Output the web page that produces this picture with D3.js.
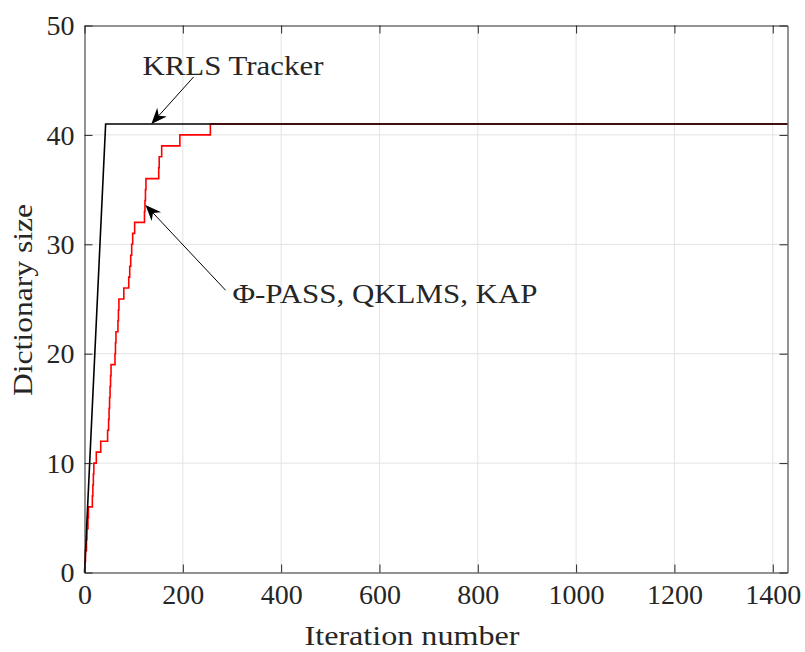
<!DOCTYPE html>
<html>
<head>
<meta charset="utf-8">
<script src="https://cdn.jsdelivr.net/npm/d3@7"></script>
<style>
  body{margin:0;background:#fff;}
  svg text{font-family:"Liberation Serif","Times New Roman",serif;fill:#262626;}
</style>
</head>
<body>
<svg id="chart"></svg>
<script>
// KRLS tracker: grows straight up to the budget, then flat
var krlsIter=[0,43,1430]
var krlsSize=[0,41,41]

// Phi-PASS / QKLMS / KAP: step curve (iteration where size changes, new size)
var passIter=[0,1,2,4,5,7,8,16,17,18,19,24,33,47,49,50,51,52,53,54,62,63,64,68,69,70,80,90,92,94,96,98,102,122,123,124,125,151,152,157,194,256,1430]
var passSize=[0,1,2,3,4,5,6,7,8,9,10,11,12,13,14,15,16,17,18,19,20,21,22,23,24,25,26,27,28,29,30,31,32,33,34,35,36,37,38,39,40,41,41]

var xTicks=[0,200,400,600,800,1000,1200,1400]
var yTicks=[0,10,20,30,40,50]

var scren={width:805,height:652}
var svg=d3.select("#chart")
          .attr("width",scren.width)
          .attr("height",scren.height)

var xScale=d3.scaleLinear()
             .domain([0,1430])
             .range([84.5,787.5])
var yScale=d3.scaleLinear()
             .domain([0,50])
             .range([572.5,25.5])

// grid
svg.append("g").selectAll("line.gx")
   .data(xTicks.slice(1))
   .enter().append("line")
   .attr("x1",function(d){return xScale(d)})
   .attr("x2",function(d){return xScale(d)})
   .attr("y1",yScale(0)).attr("y2",yScale(50))
   .attr("stroke","#e3e3e3").attr("stroke-width",1)
svg.append("g").selectAll("line.gy")
   .data(yTicks.slice(1,-1))
   .enter().append("line")
   .attr("y1",function(d){return yScale(d)})
   .attr("y2",function(d){return yScale(d)})
   .attr("x1",xScale(0)).attr("x2",xScale(1430))
   .attr("stroke","#e3e3e3").attr("stroke-width",1)

// curves
var line=d3.line()
           .x(function(d){return xScale(d[0])})
           .y(function(d){return yScale(d[1])})
var passData=passIter.map(function(t,i){return [t,passSize[i]]})
var krlsData=krlsIter.map(function(t,i){return [t,krlsSize[i]]})
svg.append("path")
   .attr("d",line.curve(d3.curveStepAfter)(passData))
   .attr("fill","none").attr("stroke","#ff0000").attr("stroke-width",1.6)
svg.append("path")
   .attr("d",line.curve(d3.curveLinear)(krlsData))
   .attr("fill","none").attr("stroke","#000").attr("stroke-width",1.6)

// axes, ticks inward on all four sides
var tk=8
var fmt=d3.format("d")
var axB=d3.axisBottom(xScale).tickValues(xTicks).tickFormat(fmt).tickSizeInner(-tk).tickSizeOuter(0).tickPadding(12)
var axT=d3.axisTop(xScale).tickValues(xTicks).tickSizeInner(-tk).tickSizeOuter(0).tickFormat("")
var axL=d3.axisLeft(yScale).tickValues(yTicks).tickFormat(fmt).tickSizeInner(-tk).tickSizeOuter(0).tickPadding(10)
var axR=d3.axisRight(yScale).tickValues(yTicks).tickSizeInner(-tk).tickSizeOuter(0).tickFormat("")
var gB=svg.append("g").attr("transform","translate(0,"+yScale(0)+")").call(axB)
var gT=svg.append("g").attr("transform","translate(0,"+yScale(50)+")").call(axT)
var gL=svg.append("g").attr("transform","translate("+xScale(0)+",0)").call(axL)
var gR=svg.append("g").attr("transform","translate("+xScale(1430)+",0)").call(axR)
;[gB,gT,gL,gR].forEach(function(g){
  g.attr("font-family","Liberation Serif").attr("font-size",28)
  g.selectAll("path,line").attr("stroke","#262626").attr("stroke-width",1)
  g.selectAll("text").attr("font-family","Liberation Serif").attr("font-size",28).attr("fill","#262626")
})
gB.selectAll("text").attr("dy","0.71em")
gL.selectAll("text").attr("dy","0.33em")

// axis titles
svg.append("text")
   .attr("x",412).attr("y",645)
   .attr("text-anchor","middle").attr("font-size",28).attr("font-family","Liberation Serif")
   .attr("textLength",215).attr("lengthAdjust","spacingAndGlyphs")
   .text("Iteration number")
svg.append("text")
   .attr("transform","translate(32,300) rotate(-90)")
   .attr("text-anchor","middle").attr("font-size",28).attr("font-family","Liberation Serif")
   .attr("textLength",192).attr("lengthAdjust","spacingAndGlyphs")
   .text("Dictionary size")

// annotations (data coordinates)
var notes=[
  {label:"KRLS Tracker",tail:[222,45.3],tip:[136,41],tx:302,ty:45.5,anchor:"middle",len:181},
  {label:"\u03A6-PASS, QKLMS, KAP",tail:[287,25.8],tip:[124,33.6],tx:301,ty:24.6,anchor:"start",len:305}
]
notes.forEach(function(n){
  var x1=xScale(n.tail[0]),y1=yScale(n.tail[1])
  var x2=xScale(n.tip[0]),y2=yScale(n.tip[1])
  var a=Math.atan2(y2-y1,x2-x1)
  var L=16,W=6.5,back=11
  function pt(d,s){return [x2-d*Math.cos(a)-s*Math.sin(a), y2-d*Math.sin(a)+s*Math.cos(a)]}
  svg.append("line")
     .attr("x1",x1).attr("y1",y1)
     .attr("x2",pt(back,0)[0]).attr("y2",pt(back,0)[1])
     .attr("stroke","#000").attr("stroke-width",1)
  svg.append("path")
     .attr("d","M"+[x2,y2]+"L"+pt(L,W)+"L"+pt(back,0)+"L"+pt(L,-W)+"Z")
     .attr("fill","#000")
  svg.append("text")
     .attr("x",xScale(n.tx)).attr("y",yScale(n.ty))
     .attr("text-anchor",n.anchor).attr("font-size",28).attr("font-family","Liberation Serif")
     .attr("textLength",n.len).attr("lengthAdjust","spacingAndGlyphs")
     .text(n.label)
})
</script>
</body>
</html>
